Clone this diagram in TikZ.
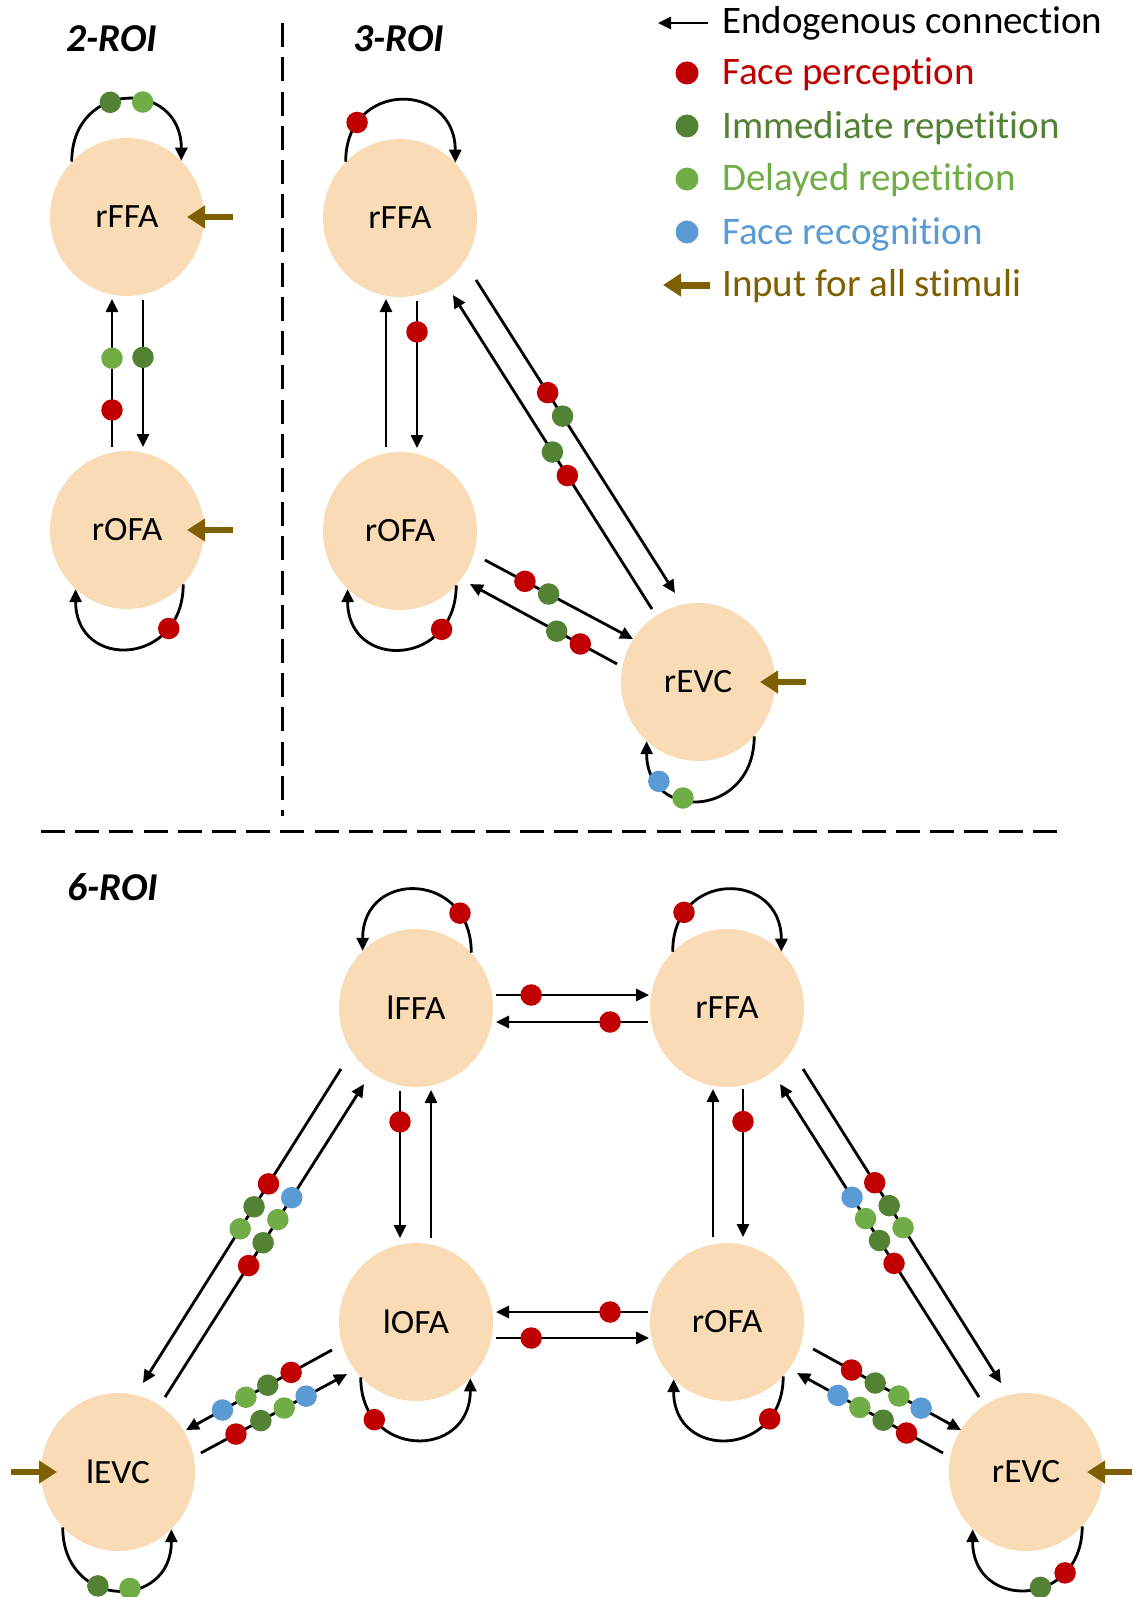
\documentclass[tikz,border=0pt]{standalone}
\usepackage{fontspec}
\setmainfont{Carlito}[Ligatures={NoCommon}]
\usepackage{graphicx}
\usetikzlibrary{calc,arrows.meta,shapes.geometric}
\definecolor{peach}{HTML}{F9DCB5}
\definecolor{cred}{HTML}{C00000}
\definecolor{cdkg}{HTML}{548235}
\definecolor{cltg}{HTML}{70AD47}
\definecolor{cblu}{HTML}{5B9BD5}
\definecolor{cbrn}{HTML}{7F6000}
\newcommand{\lbl}[1]{\scalebox{1.04}[1]{#1}}
% straight connector: from, to, start distance, start offset, end distance, end offset, dots
\newcommand{\pedge}[7]{\draw[conn] ($(#1)!#3pt!(#2)!#4pt!90:(#2)$) -- ($(#2)!#5pt!(#1)!#6pt!-90:(#1)$) #7;}
% self loop: node, start angle, end angle, control offset, dots
\newcommand{\ploop}[5]{\draw[conn] (#1.#2) .. controls +(0,#4) and +(0,#4) .. (#1.#3) #5;}
\tikzset{
  roi/.style={ellipse, fill=peach, minimum width=154pt, minimum height=158pt, inner sep=0pt, font=\fontsize{34}{40}\selectfont},
  conn/.style={line width=2.8pt, -{Triangle[length=13pt,width=12pt]}},
  inarrow/.style={draw=cbrn, line width=6pt, -{Triangle[length=18pt,width=22pt]}},
  fdot/.style={circle, fill=#1, minimum size=21.5pt, inner sep=0pt},
  dR/.style={fdot=cred, pos=#1},
  dD/.style={fdot=cdkg, pos=#1},
  dL/.style={fdot=cltg, pos=#1},
  dB/.style={fdot=cblu, pos=#1},
  ldot/.style={circle, fill=#1, minimum size=23pt, inner sep=0pt},
  legtext/.style={anchor=base west, inner sep=0pt, font=\fontsize{39}{46}\selectfont},
  title/.style={anchor=base west, inner sep=0pt, font=\fontsize{39.5}{46}\selectfont\bfseries\itshape},
  dashline/.style={line width=3pt, dash pattern=on 24pt off 10.2pt}
}
\begin{document}
\begin{tikzpicture}[x=1pt,y=-1pt]
\fill[white] (0,0) rectangle (1132,1597);
\useasboundingbox (0,0) rectangle (1132,1597);

% separators
\draw[dashline] (282,23.3) -- (282,816);
\draw[dashline] (41,831) -- (1057.5,831);

% titles
\node[title] (t2) at (66,51.7) {2-ROI};
\node[title] (t3) at (353,51.7) {3-ROI};
\node[title] (t6) at (67,900.7) {6-ROI};

% legend
\coordinate (lgA) at (708,23);
\coordinate (lgAt) at (658,23);
\draw[conn] (lgA) -- (lgAt);
\node[legtext] (lg1) at (722,33.3) {Endogenous connection};
\node[ldot=cred] (ld1) at (687,73) {};
\node[legtext, text=cred] (lg2) at (722,85) {Face perception};
\node[ldot=cdkg] (ld2) at (687,126) {};
\node[legtext, text=cdkg] (lg3) at (722,138.3) {Immediate repetition};
\node[ldot=cltg] (ld3) at (687,179) {};
\node[legtext, text=cltg] (lg4) at (722,191) {Delayed repetition};
\node[ldot=cblu] (ld4) at (687,232) {};
\node[legtext, text=cblu] (lg5) at (722,245) {Face recognition};
\coordinate (lgB) at (710,285);
\coordinate (lgBt) at (663,285);
\draw[inarrow, line width=7pt] (lgB) -- (lgBt);
\node[legtext, text=cbrn] (lg6) at (722,296) {Input for all stimuli};

% nodes
\node[roi] (F2) at (127,217) {\lbl{rFFA}};
\node[roi] (O2) at (127,530) {\lbl{rOFA}};
\node[roi] (F3) at (400,218) {\lbl{rFFA}};
\node[roi] (O3) at (400,531) {\lbl{rOFA}};
\node[roi] (E3) at (698,682) {\lbl{rEVC}};
\node[roi] (LF) at (416,1008) {\lbl{lFFA}};
\node[roi] (RF) at (727,1008) {\lbl{rFFA}};
\node[roi] (LO) at (416,1322) {\lbl{lOFA}};
\node[roi] (RO) at (727,1322) {\lbl{rOFA}};
\node[roi] (LE) at (118,1472) {\lbl{lEVC}};
\node[roi] (RE) at (1026,1472) {\lbl{rEVC}};

% inputs
\coordinate (iF2) at ($(F2)+(106,0)$);
\coordinate (iO2) at ($(O2)+(106,0)$);
\coordinate (iE3) at ($(E3)+(108,0)$);
\coordinate (iLE) at ($(LE)+(-107,0)$);
\coordinate (iRE) at ($(RE)+(106,0)$);
\draw[inarrow] (iF2) -- ($(F2)+(60,0)$);
\draw[inarrow] (iO2) -- ($(O2)+(60,0)$);
\draw[inarrow] (iE3) -- ($(E3)+(62,0)$);
\draw[inarrow] (iLE) -- ($(LE)+(-61,0)$);
\draw[inarrow] (iRE) -- ($(RE)+(61,0)$);

% 2-ROI
\pedge{O2}{F2}{83}{15}{82}{15}{node[dL=.60]{} node[dR=.25]{}}
\pedge{F2}{O2}{83}{16}{83}{16}{node[dD=.39]{}}
\ploop{F2}{135}{46}{-82}{node[dD=.4]{} node[dL=.6]{}}
\ploop{O2}{316}{229}{82}{node[dR=.23]{}}

% 3-ROI
\pedge{O3}{F3}{84}{14}{81}{14}{}
\pedge{F3}{O3}{83}{17}{83}{17}{node[dR=.21]{}}
\pedge{F3}{E3}{93.2}{30.5}{87.3}{28.7}{node[dR=.36]{} node[dD=.435]{}}
\pedge{E3}{F3}{86.3}{-0.7}{93.4}{-2.9}{node[dD=.50]{} node[dR=.425]{}}
\pedge{O3}{E3}{88.9}{12.5}{77.4}{9}{node[dR=.27]{} node[dD=.43]{}}
\pedge{E3}{O3}{80.4}{20.5}{86.4}{15.7}{node[dD=.41]{} node[dR=.25]{}}
\ploop{F3}{134}{45}{-82}{node[dR=.2]{}}
\ploop{O3}{316}{228}{82}{node[dR=.23]{}}
\ploop{E3}{316}{229}{82}{node[dL=.61]{} node[dB=.79]{}}

% 6-ROI
\pedge{LF}{RF}{80}{13}{78}{13}{node[dR=.23]{}}
\pedge{RF}{LF}{79}{14}{80}{14}{node[dR=.25]{}}
\pedge{RO}{LO}{79}{-10}{80}{-10}{node[dR=.25]{}}
\pedge{LO}{RO}{80}{-16}{78}{-16}{node[dR=.23]{}}
\pedge{LF}{LO}{83}{-16}{84}{-16}{node[dR=.21]{}}
\pedge{LO}{LF}{84}{-15}{82}{-15}{}
\pedge{RF}{RO}{81}{16}{85}{16}{node[dR=.22]{}}
\pedge{RO}{RF}{85}{14}{81}{14}{}
\pedge{LF}{LE}{91.8}{-30.2}{88.4}{-27.1}{node[dR=.366]{} node[dD=.439]{} node[dL=.509]{}}
\pedge{LE}{LF}{88.5}{0.9}{92.1}{2.7}{node[dR=.42]{} node[dD=.493]{} node[dL=.567]{} node[dB=.637]{}}
\pedge{RF}{RE}{92.5}{30.9}{88.3}{27.2}{node[dR=.362]{} node[dD=.435]{} node[dL=.505]{}}
\pedge{RE}{RF}{88.5}{-1.1}{92.6}{-3.4}{node[dR=.427]{} node[dD=.50]{} node[dL=.57]{} node[dB=.638]{}}
\pedge{LO}{LE}{87.6}{-12.8}{79.6}{-6.9}{node[dR=.28]{} node[dD=.44]{} node[dL=.59]{} node[dB=.75]{}}
\pedge{LE}{LO}{82.6}{-20.3}{85}{-15.5}{node[dR=.24]{} node[dD=.41]{} node[dL=.57]{} node[dB=.72]{}}
\pedge{RO}{RE}{89}{14.5}{76.9}{8.4}{node[dR=.26]{} node[dD=.42]{} node[dL=.58]{} node[dB=.73]{}}
\pedge{RE}{RO}{82.7}{20.2}{85.5}{14.2}{node[dR=.25]{} node[dD=.41]{} node[dL=.57]{} node[dB=.72]{}}
\ploop{LF}{45}{133}{-82}{node[dR=.2]{}}
\ploop{RF}{134}{46}{-82}{node[dR=.2]{}}
\ploop{LO}{225}{314}{82}{node[dR=.22]{}}
\ploop{RO}{316}{227}{82}{node[dR=.22]{}}
\ploop{LE}{225}{313}{82}{node[dD=.38]{} node[dL=.58]{}}
\ploop{RE}{316}{227}{82}{node[dR=.25]{} node[dD=.42]{}}
\end{tikzpicture}
\end{document}
